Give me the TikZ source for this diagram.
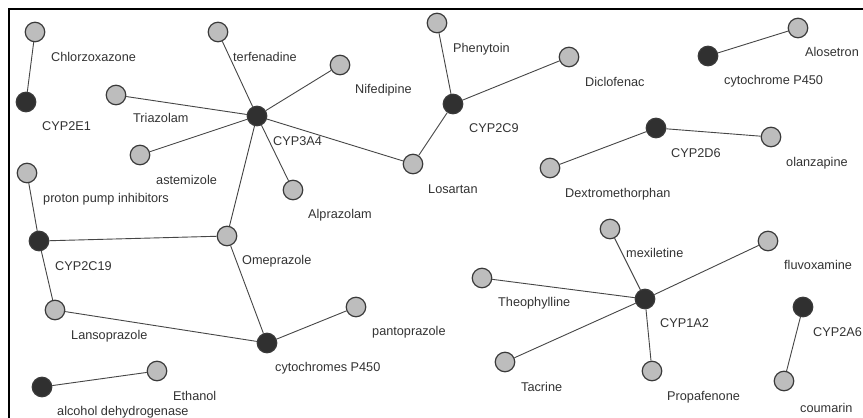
\documentclass[tikz,border=0pt]{standalone}
\usepackage{fontspec}
\setmainfont{Liberation Sans}
\definecolor{lightfill}{HTML}{BDBDBD}
\definecolor{darkfill}{HTML}{303030}
\definecolor{ringcol}{HTML}{3A3A3A}
\definecolor{edgecol}{HTML}{464646}
\definecolor{txtcol}{HTML}{333333}
\begin{document}
\begin{tikzpicture}[x=1pt,y=-1pt,
  drug/.style={circle,draw=ringcol,fill=lightfill,line width=1.2pt,minimum size=19.5pt,inner sep=0pt},
  enz/.style={circle,draw=ringcol,fill=darkfill,line width=1.2pt,minimum size=19.5pt,inner sep=0pt},
  lbl/.style={anchor=west,inner sep=0pt,text=txtcol,font=\fontsize{12.7}{13}\selectfont,text height=9pt,text depth=0pt},
  link/.style={draw=edgecol,line width=0.9pt}]
\useasboundingbox (0,0) rectangle (863,418);
\fill[white] (0,0) rectangle (863,418);
\draw[line width=2.4pt,black] (9,418) -- (9,9) -- (863,9);
% light nodes
\node[drug] (chlor) at (35,32) {};
\node[drug] (terf) at (218,32) {};
\node[drug] (triaz) at (116,95) {};
\node[drug] (astem) at (140,155) {};
\node[drug] (ppi) at (27,173) {};
\node[drug] (alpra) at (293,190) {};
\node[drug] (nifed) at (340,65) {};
\node[drug] (pheny) at (437,23) {};
\node[drug] (diclo) at (569,57) {};
\node[drug] (losar) at (413,164) {};
\node[drug] (dextro) at (550,168) {};
\node[drug] (alose) at (798,28) {};
\node[drug] (olanz) at (771,137) {};
\node[drug] (omep) at (227,236) {};
\node[drug] (lanso) at (55,310) {};
\node[drug] (etha) at (157,371) {};
\node[drug] (panto) at (356,307) {};
\node[drug] (theo) at (482,278) {};
\node[drug] (tacr) at (505,362) {};
\node[drug] (mexi) at (610,229) {};
\node[drug] (fluvo) at (768,241) {};
\node[drug] (propa) at (652,371) {};
\node[drug] (couma) at (784,381) {};
% dark nodes
\node[enz] (cyp2e1) at (26,102) {};
\node[enz] (cyp3a4) at (257,116) {};
\node[enz] (cyp2c9) at (453,104) {};
\node[enz] (p450) at (708,56) {};
\node[enz] (cyp2d6) at (656,128) {};
\node[enz] (cyp2c19) at (39,241) {};
\node[enz] (p450s) at (267,343) {};
\node[enz] (adh) at (42,387) {};
\node[enz] (cyp1a2) at (645,299) {};
\node[enz] (cyp2a6) at (803,307) {};
% edges
\path[link] (chlor) -- (cyp2e1);
\path[link] (cyp3a4) -- (terf);
\path[link] (cyp3a4) -- (nifed);
\path[link] (cyp3a4) -- (triaz);
\path[link] (cyp3a4) -- (astem);
\path[link] (cyp3a4) -- (alpra);
\path[link] (cyp3a4) -- (omep);
\path[link] (cyp3a4) -- (losar);
\path[link] (cyp2c9) -- (pheny);
\path[link] (cyp2c9) -- (diclo);
\path[link] (cyp2c9) -- (losar);
\path[link] (p450) -- (alose);
\path[link] (cyp2d6) -- (dextro);
\path[link] (cyp2d6) -- (olanz);
\path[link] (cyp2c19) -- (ppi);
\path[link] (cyp2c19) -- (omep);
\path[link] (cyp2c19) -- (lanso);
\path[link] (p450s) -- (omep);
\path[link] (p450s) -- (lanso);
\path[link] (p450s) -- (panto);
\path[link] (adh) -- (etha);
\path[link] (cyp1a2) -- (mexi);
\path[link] (cyp1a2) -- (fluvo);
\path[link] (cyp1a2) -- (theo);
\path[link] (cyp1a2) -- (tacr);
\path[link] (cyp1a2) -- (propa);
\path[link] (cyp2a6) -- (couma);
% labels
\node[lbl] (l-chlor) at (51,57) {Chlorzoxazone};
\node[lbl] (l-cyp2e1) at (42,126) {CYP2E1};
\node[lbl] (l-terf) at (233,57) {terfenadine};
\node[lbl] (l-triaz) at (133,118) {Triazolam};
\node[lbl] (l-cyp3a4) at (273,141) {CYP3A4};
\node[lbl] (l-astem) at (156,180) {astemizole};
\node[lbl] (l-ppi) at (43,198) {proton pump inhibitors};
\node[lbl] (l-alpra) at (308,214) {Alprazolam};
\node[lbl] (l-nifed) at (355,89) {Nifedipine};
\node[lbl] (l-pheny) at (453,48) {Phenytoin};
\node[lbl] (l-cyp2c9) at (469,128) {CYP2C9};
\node[lbl] (l-diclo) at (585,82) {Diclofenac};
\node[lbl] (l-losar) at (428,189) {Losartan};
\node[lbl] (l-dextro) at (565,193) {Dextromethorphan};
\node[lbl] (l-p450) at (724,80) {cytochrome P450};
\node[lbl] (l-alose) at (805,52) {Alosetron};
\node[lbl] (l-cyp2d6) at (671,153) {CYP2D6};
\node[lbl] (l-olanz) at (786,162) {olanzapine};
\node[lbl] (l-cyp2c19) at (55,266) {CYP2C19};
\node[lbl] (l-omep) at (242,260) {Omeprazole};
\node[lbl] (l-lanso) at (71,335) {Lansoprazole};
\node[lbl] (l-p450s) at (275,367) {cytochromes P450};
\node[lbl] (l-etha) at (173,396) {Ethanol};
\node[lbl] (l-adh) at (57,411) {alcohol dehydrogenase};
\node[lbl] (l-panto) at (372,331) {pantoprazole};
\node[lbl] (l-theo) at (498,302) {Theophylline};
\node[lbl] (l-tacr) at (521,387) {Tacrine};
\node[lbl] (l-mexi) at (626,253) {mexiletine};
\node[lbl] (l-cyp1a2) at (660,323) {CYP1A2};
\node[lbl] (l-fluvo) at (784,265) {fluvoxamine};
\node[lbl] (l-cyp2a6) at (813,332) {CYP2A6};
\node[lbl] (l-propa) at (667,396) {Propafenone};
\node[lbl] (l-couma) at (800,408) {coumarin};
\end{tikzpicture}
\end{document}
